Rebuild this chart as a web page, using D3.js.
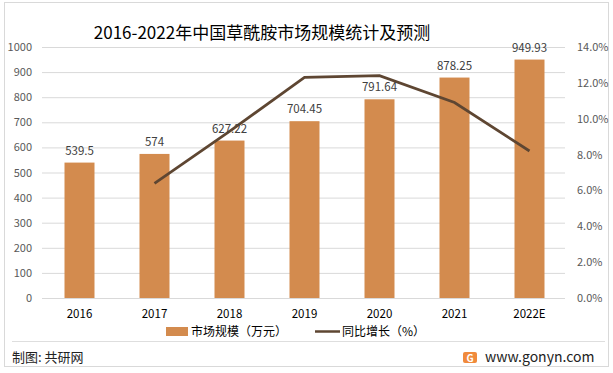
<!DOCTYPE html>
<html><head><meta charset="utf-8">
<script src="https://cdn.jsdelivr.net/npm/d3@7/dist/d3.min.js"></script>
<style>body{margin:0;background:#fff}svg{display:block}</style>
</head><body>
<svg id="c" width="613" height="373"></svg>
<script>
const categories = ["2016","2017","2018","2019","2020","2021","2022E"];
const marketSize = [539.5, 574, 627.22, 704.45, 791.64, 878.25, 949.93];
const growth = [null, 6.4, 9.3, 12.3, 12.4, 10.9, 8.2];
const leftTicks = [0,100,200,300,400,500,600,700,800,900,1000];
const rightTicks = [0,2,4,6,8,10,12,14];

const svg = d3.select("#c");
const font = "'Noto Sans CJK SC', 'Noto Sans', sans-serif";
const m = {l:42, r:567, t:47, b:298};

svg.append("rect").attr("x",4.5).attr("y",2.5).attr("width",604).attr("height",364)
  .attr("fill","#fff").attr("stroke","#d9d9d9");

const x = d3.scaleBand().domain(categories).range([m.l, m.r]).paddingInner(0.6).paddingOuter(0.3);
const yL = d3.scaleLinear().domain([0,1000]).range([m.b, m.t]);
const yR = d3.scaleLinear().domain([0,14]).range([m.b, m.t]);

// gridlines
svg.append("g").selectAll("line").data(leftTicks).join("line")
  .attr("x1",m.l).attr("x2",m.r-2).attr("y1",d=>yL(d)+0.5).attr("y2",d=>yL(d)+0.5)
  .attr("stroke","#d9d9d9").attr("stroke-width",1);

// left axis
const axL = d3.axisLeft(yL).tickValues(leftTicks).tickSize(0).tickPadding(0).tickFormat(d3.format("d"));
const gL = svg.append("g").attr("transform",`translate(${m.l-10},0)`).call(axL);
gL.select(".domain").remove();
gL.selectAll("text").attr("font-family",font).attr("font-size",11).attr("fill","#595959");

// right axis
const axR = d3.axisRight(yR).tickValues(rightTicks).tickSize(0).tickPadding(0).tickFormat(d=>d.toFixed(1)+"%");
const gR = svg.append("g").attr("transform",`translate(${m.r+10},0)`).call(axR);
gR.select(".domain").remove();
gR.selectAll("text").attr("font-family",font).attr("font-size",11).attr("fill","#595959");

// x axis
const axX = d3.axisBottom(x).tickSize(0).tickPadding(0);
const gX = svg.append("g").attr("transform",`translate(0,${m.b+12})`).call(axX);
gX.select(".domain").remove();
gX.selectAll("text").attr("font-family",font).attr("font-size",11.5).attr("fill","#000");

// bars
svg.append("g").selectAll("rect").data(marketSize).join("rect")
  .attr("x",(d,i)=>x(categories[i])).attr("width",x.bandwidth())
  .attr("y",d=>yL(d)).attr("height",d=>yL(0)-yL(d)).attr("fill","#d38b4e");

// line
const line = d3.line().defined(d=>d!=null).x((d,i)=>x(categories[i])+x.bandwidth()/2).y(d=>yR(d));
svg.append("path").datum(growth).attr("d",line).attr("fill","none")
  .attr("stroke","#5e4632").attr("stroke-width",2.75);

// labels
svg.append("g").selectAll("text").data(marketSize).join("text")
  .attr("x",(d,i)=>x(categories[i])+x.bandwidth()/2).attr("y",d=>yL(d)-8)
  .attr("text-anchor","middle").attr("font-family",font).attr("font-size",11.5).attr("fill","#404040")
  .text(d=>d);

// title
svg.append("text").attr("x",262).attr("y",39).attr("text-anchor","middle")
  .attr("font-family",font).attr("font-size",17).attr("fill","#000")
  .text("2016-2022年中国草酰胺市场规模统计及预测");

// legend
svg.append("rect").attr("x",166).attr("y",327).attr("width",22).attr("height",9).attr("fill","#d38b4e");
svg.append("text").attr("x",191).attr("y",336).attr("font-family",font).attr("font-size",12).attr("fill","#000").text("市场规模（万元）");
svg.append("line").attr("x1",315).attr("x2",340).attr("y1",331.5).attr("y2",331.5).attr("stroke","#5e4632").attr("stroke-width",2.5);
svg.append("text").attr("x",342).attr("y",336).attr("font-family",font).attr("font-size",12).attr("fill","#000").text("同比增长（%）");

// footer
svg.append("line").attr("x1",12).attr("x2",605).attr("y1",341.5).attr("y2",341.5).attr("stroke","#dedede");
svg.append("text").attr("x",12).attr("y",362).attr("font-family",font).attr("font-size",13).attr("fill","#222").text("制图: 共研网");
const lg = svg.append("g").attr("transform","translate(463,352)");
lg.append("rect").attr("width",14).attr("height",11).attr("rx",2).attr("fill","#f08a3c");
lg.append("text").attr("x",7).attr("y",9.5).attr("text-anchor","middle").attr("font-family",font).attr("font-size",10).attr("font-weight","bold").attr("fill","#fff").text("G");
svg.append("text").attr("x",485).attr("y",362).attr("font-family",font).attr("font-size",14).attr("fill","#222").text("www.gonyn.com");
</script>
</body></html>
